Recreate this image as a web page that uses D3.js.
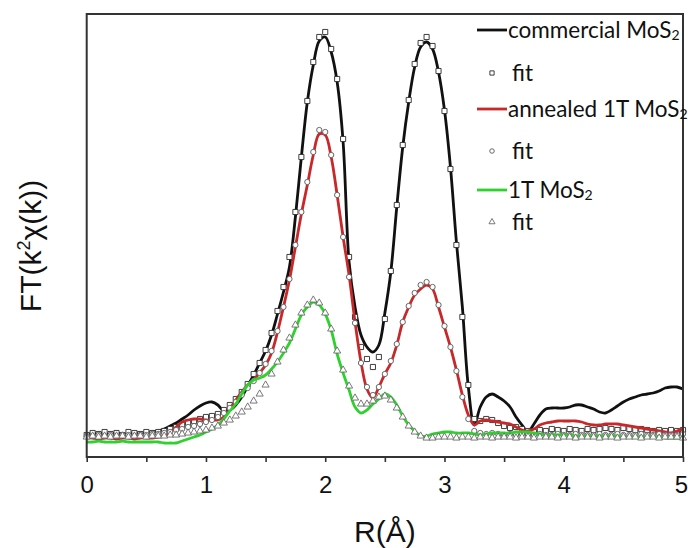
<!DOCTYPE html>
<html>
<head>
<meta charset="utf-8">
<script src="https://cdn.jsdelivr.net/npm/d3@7"></script>
<style>
  html, body { margin: 0; padding: 0; background: #fff; }
  svg { display: block; }
</style>
</head>
<body>
<svg id="chart" width="688" height="548"></svg>
<script>
// Radial distance grid R (Å), 0.05 Å steps from 0 to 5
const rGrid = d3.range(0, 101).map(i => +(i * 0.05).toFixed(2));

// |FT(k²χ(k))| magnitudes (a.u.) on rGrid
const commercialLine = [
  23,23,24,23,23,24,23,23,24,24,24,25,26,28,31,34,38,42,47,51,
  54,55,52,46,47,52,60,71,82,94,106,122,143,165,190,240,300,355,392,416,
  420,405,375,315,195,150,122,110,105,112,144,185,250,310,355,390,410,415,408,385,
  347,290,215,150,70,32,50,60,63,60,56,50,40,32,25,33,42,48,49,49,
  49,50,52,52,50,48,45,44,47,51,55,58,60,62,63,64,66,69,70,70,
  68
];
const annealedLine = [
  19,19,18,19,19,18,19,19,18,19,19,19,20,21,25,30,35,37,38,38,
  37,37,37,40,48,57,65,72,77,84,92,104,125,150,177,210,243,272,302,323,
  322,300,262,220,182,135,95,68,59,70,83,94,112,135,150,162,168,172,168,150,
  130,110,87,62,42,32,36,37,36,35,34,33,30,27,26,28,32,34,35,36,
  36,36,36,35,33,32,32,33,33,33,32,31,30,29,28,27,26,25,24,26,
  28
];
const oneTLine = [
  15,15,16,15,15,15,16,15,15,15,15,15,15,14,14,14,16,18,20,22,
  25,28,32,38,46,53,63,72,77,79,82,88,95,104,114,128,142,150,155,152,
  143,127,103,84,67,50,44,47,53,58,63,60,52,41,32,26,21,21,23,24,
  25,25,24,24,24,23,22,23,24,24,24,24,25,25,25,24,23,22,22,22,
  22,22,21,21,21,21,21,21,21,21,20,20,20,20,20,20,20,19,19,19,
  19
];

// Fitted magnitudes on the same grid
const commercialFit = [
  22,24,23,25,23,24,22,25,24,23,25,24,25,26,28,30,32,34,36,38,
  40,41,43,47,52,58,65,73,83,94,107,124,146,170,200,245,300,356,395,420,
  425,408,378,318,200,140,110,98,90,100,138,186,252,312,357,393,414,420,411,386,
  346,288,212,140,72,38,36,38,37,34,31,29,30,28,26,25,27,26,28,27,
  26,28,27,26,28,27,28,29,28,27,29,28,27,28,27,26,27,26,27,26,
  27
];
const annealedFit = [
  21,21,22,21,22,21,22,22,21,22,22,23,23,24,25,27,28,30,31,33,
  35,37,40,44,49,55,62,69,76,84,93,106,126,150,178,212,245,275,305,327,
  325,302,262,220,180,134,94,70,62,70,83,96,113,135,151,164,172,175,170,152,
  131,110,86,60,38,26,24,23,24,23,22,23,22,23,22,22,23,22,22,23,
  22,22,23,22,22,22,23,22,22,23,22,22,22,23,22,22,23,22,22,22,
  23
];
const oneTFit = [
  20,21,20,21,20,21,21,20,21,21,20,21,21,21,22,22,23,24,25,26,
  27,29,31,34,37,41,45,50,56,63,72,83,95,107,119,132,144,152,157,154,
  144,128,106,87,71,59,53,53,56,60,61,57,49,40,31,25,21,19,19,20,
  20,20,19,20,20,19,20,20,19,20,20,20,19,20,20,19,20,20,20,19,
  20,20,19,20,20,20,19,20,20,19,20,20,20,19,20,20,19,20,20,20,
  19
];

const xTicks = [0, 0.5, 1, 1.5, 2, 2.5, 3, 3.5, 4, 4.5, 5];
const xTickLabels = ["0", "", "1", "", "2", "", "3", "", "4", "", "5"];

const series = [
  { name: "commercial MoS", line: commercialLine, fit: commercialFit, color: "#111111", marker: "square" },
  { name: "annealed 1T MoS", line: annealedLine, fit: annealedFit, color: "#c8282a", marker: "circle" },
  { name: "1T MoS", line: oneTLine, fit: oneTFit, color: "#2ed12e", marker: "triangle" }
];

const svg = d3.select("#chart");
const plot = { left: 86.7, right: 683, top: 14, bottom: 457 };

const x = d3.scaleLinear().domain([0, 5]).range([plot.left, plot.right]);
const y = d3.scaleLinear().domain([0, 443]).range([plot.bottom, plot.top]);

const lineGen = d3.line()
  .x(d => x(d[0]))
  .y(d => y(d[1]))
  .curve(d3.curveCatmullRom.alpha(0.5));

const markerPath = {
  square: d3.symbol().type(d3.symbolSquare).size(26)(),
  circle: d3.symbol().type(d3.symbolCircle).size(22)(),
  triangle: d3.symbol().type(d3.symbolTriangle).size(22)()
};
const legendMarkerPath = {
  square: d3.symbol().type(d3.symbolSquare).size(18)(),
  circle: d3.symbol().type(d3.symbolCircle).size(16)(),
  triangle: d3.symbol().type(d3.symbolTriangle).size(16)()
};
const markerStroke = { square: "#2a2a2a", circle: "#5a5a5a", triangle: "#6a6a6a" };

const g = svg.append("g");

// curves and their fits, drawn in legend order
series.forEach(s => {
  const pts = rGrid.map((r, i) => [r, s.line[i]]);
  g.append("path")
    .attr("d", lineGen(pts))
    .attr("fill", "none")
    .attr("stroke", s.color)
    .attr("stroke-width", 2.8)
    .attr("stroke-linejoin", "round");

  g.append("g").selectAll("path")
    .data(rGrid.map((r, i) => [r, s.fit[i]]))
    .join("path")
    .attr("d", markerPath[s.marker])
    .attr("transform", d => `translate(${x(d[0])},${y(d[1])})`)
    .attr("fill", "#fff")
    .attr("stroke", markerStroke[s.marker])
    .attr("stroke-width", 0.9);
});

// frame
svg.append("rect")
  .attr("x", plot.left).attr("y", plot.top)
  .attr("width", plot.right - plot.left).attr("height", plot.bottom - plot.top)
  .attr("fill", "none").attr("stroke", "#333").attr("stroke-width", 2);

// bottom axis
const xAxis = d3.axisBottom(x)
  .tickValues(xTicks)
  .tickSize(5)
  .tickPadding(14)
  .tickFormat((d, i) => xTickLabels[i]);
const ax = svg.append("g")
  .attr("transform", `translate(0,${plot.bottom})`)
  .call(xAxis);
ax.select(".domain").remove();
ax.selectAll(".tick line").attr("stroke", "#333").attr("stroke-width", 1.6);
ax.selectAll(".tick text")
  .attr("font-family", "Liberation Sans, Arial, sans-serif")
  .attr("font-size", 24)
  .attr("fill", "#111");
// keep the last label inside the page edge
ax.selectAll(".tick text").filter(d => d === 5).attr("dx", -2);

// axis titles
svg.append("text")
  .attr("x", (plot.left + plot.right) / 2).attr("y", 542)
  .attr("text-anchor", "middle")
  .attr("font-family", "Liberation Sans, Arial, sans-serif")
  .attr("font-size", 30).attr("fill", "#111")
  .text("R(Å)");

const yt = svg.append("text")
  .attr("transform", `translate(41,246) rotate(-90)`)
  .attr("text-anchor", "middle")
  .attr("font-family", "Liberation Sans, Arial, sans-serif")
  .attr("font-size", 30).attr("fill", "#111");
yt.append("tspan").text("FT(k");
yt.append("tspan").attr("font-size", 18).attr("dy", -11).text("2");
yt.append("tspan").attr("dy", 11).text("χ(k))");

// legend
const legendFont = "Lato, 'Open Sans', sans-serif";
const legendRows = [
  { y: 30, type: "line", s: series[0] },
  { y: 73, type: "fit", s: series[0] },
  { y: 109, type: "line", s: series[1] },
  { y: 151, type: "fit", s: series[1] },
  { y: 190, type: "line", s: series[2] },
  { y: 222, type: "fit", s: series[2] }
];
const lg = svg.append("g");
legendRows.forEach(row => {
  if (row.type === "line") {
    lg.append("line")
      .attr("x1", 477).attr("x2", 507)
      .attr("y1", row.y).attr("y2", row.y)
      .attr("stroke", row.s.color).attr("stroke-width", 2.8);
    const t = lg.append("text")
      .attr("x", 508).attr("y", row.y + 7.5)
      .attr("font-family", legendFont).attr("font-size", 22.5).attr("fill", "#111");
    t.append("tspan").text(row.s.name);
    t.append("tspan").attr("font-size", 14).attr("dy", 2).text("2");
  } else {
    lg.append("path")
      .attr("d", legendMarkerPath[row.s.marker])
      .attr("transform", `translate(492,${row.y})`)
      .attr("fill", "#fff")
      .attr("stroke", markerStroke[row.s.marker])
      .attr("stroke-width", 0.9);
    lg.append("text")
      .attr("x", 512).attr("y", row.y + 7.5)
      .attr("font-family", legendFont).attr("font-size", 22.5).attr("fill", "#111")
      .text("fit");
  }
});
</script>
</body>
</html>
